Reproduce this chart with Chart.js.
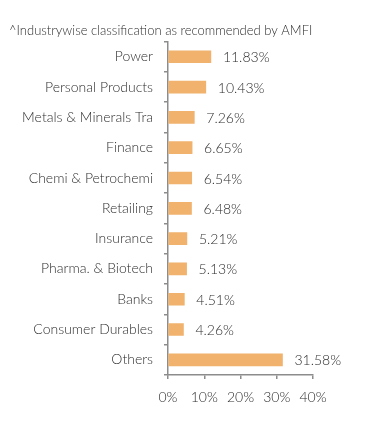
<!DOCTYPE html>
<html>
<head>
<meta charset="utf-8">
<script src="https://cdn.jsdelivr.net/npm/chart.js@4.4.1/dist/chart.umd.min.js"></script>
<style>
  html, body { margin: 0; padding: 0; background: #fff; }
  #wrap { width: 391px; height: 427px; }
</style>
</head>
<body>
<div id="wrap"><canvas id="industryChart" width="391" height="427"></canvas></div>
<script>
// Data
const industries = ['Power', 'Personal Products', 'Metals & Minerals Tra', 'Finance',
    'Chemi & Petrochemi', 'Retailing', 'Insurance', 'Pharma. & Biotech', 'Banks',
    'Consumer Durables', 'Others'];
const weights = [11.83, 10.43, 7.26, 6.65, 6.54, 6.48, 5.21, 5.13, 4.51, 4.26, 31.58];
const xTicks = [0, 10, 20, 30, 40];

const titleText = '^Industrywise classification as recommended by AMFI';
const fontFamily = "Lato, 'Open Sans', sans-serif";
const axisColor = '#8c8c8c';
const textColor = '#2e2e2e';

// Value labels at the end of each bar
const valueLabels = {
    id: 'valueLabels',
    afterDatasetsDraw(chart) {
        const ctx = chart.ctx;
        const meta = chart.getDatasetMeta(0);
        ctx.save();
        ctx.font = '300 14px ' + fontFamily;
        ctx.fillStyle = textColor;
        ctx.textAlign = 'left';
        ctx.textBaseline = 'middle';
        meta.data.forEach((bar, i) => {
            ctx.fillText(weights[i].toFixed(2) + '%', bar.x + 12, bar.y + 1);
        });
        ctx.restore();
    }
};

new Chart(document.getElementById('industryChart'), {
    type: 'bar',
    data: {
        labels: industries,
        datasets: [{
            data: weights,
            backgroundColor: '#f0b26c',
            borderWidth: 0,
            barThickness: 12
        }]
    },
    options: {
        indexAxis: 'y',
        responsive: false,
        animation: false,
        layout: { padding: { left: 9, right: 78, top: 23, bottom: 0 } },
        plugins: {
            legend: { display: false },
            tooltip: { enabled: false },
            title: {
                display: true,
                text: titleText,
                align: 'start',
                color: textColor,
                font: { family: fontFamily, size: 13, weight: '300' },
                padding: { top: 0, bottom: 3 }
            }
        },
        scales: {
            x: {
                min: 0,
                max: 40,
                afterBuildTicks(scale) {
                    scale.ticks = xTicks.map(v => ({ value: v }));
                },
                afterFit(scale) { scale.height = 52; },
                border: { display: true, color: axisColor, width: 1.5 },
                grid: { drawOnChartArea: false, drawTicks: true, tickLength: 4, color: axisColor, lineWidth: 1.5 },
                ticks: {
                    padding: 10,
                    color: textColor,
                    font: { family: fontFamily, size: 14, weight: '300' },
                    callback: v => v + '%'
                }
            },
            y: {
                afterFit(scale) { scale.width = 159; },
                border: { display: true, color: axisColor, width: 1.5 },
                grid: { drawOnChartArea: false, drawTicks: true, tickLength: 4, color: axisColor, lineWidth: 1.5 },
                ticks: {
                    padding: 11,
                    color: textColor,
                    font: { family: fontFamily, size: 14, weight: '300' }
                }
            }
        }
    },
    plugins: [valueLabels]
});
</script>
</body>
</html>
